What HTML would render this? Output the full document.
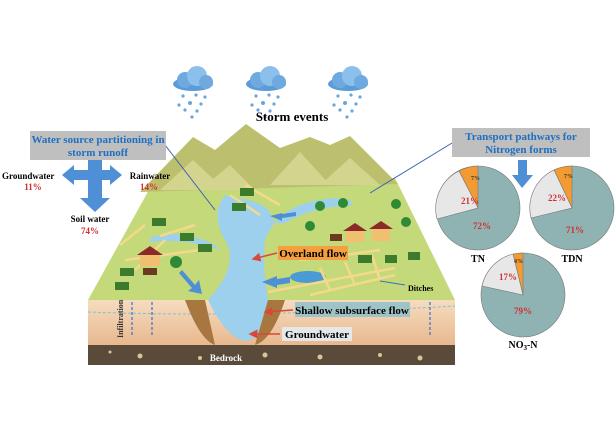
<!DOCTYPE html>
<html><head><meta charset="utf-8"><style>
html,body{margin:0;padding:0;background:#fff;}
svg{display:block;}
text{font-family:"Liberation Serif",serif;font-weight:bold;}
</style></head><body>
<svg width="616" height="428" viewBox="0 0 616 428" xmlns="http://www.w3.org/2000/svg">
<defs>
<marker id="ar" markerWidth="6" markerHeight="6" refX="5" refY="3" orient="auto"><path d="M0,0 L6,3 L0,6z" fill="#d8483a"/></marker>
<linearGradient id="soil" x1="0" y1="0" x2="0" y2="1"><stop offset="0" stop-color="#f6dcc0"/><stop offset="1" stop-color="#e8b88e"/></linearGradient>
<g id="cloud"><ellipse cx="0" cy="4" rx="20" ry="7" fill="#5b9bd8"/><circle cx="-8" cy="0" r="8" fill="#6eaae0"/><circle cx="4" cy="-4" r="10" fill="#8cc0ec"/><circle cx="13" cy="2" r="7" fill="#6eaae0"/></g>
<g id="drops" fill="#6aa5dc"><circle cx="-10" cy="16" r="1.6"/><circle cx="3" cy="15" r="1.6"/><circle cx="12" cy="17" r="1.6"/><circle cx="-14" cy="25" r="1.6"/><circle cx="-3" cy="23" r="2"/><circle cx="8" cy="24" r="1.6"/><circle cx="-8" cy="30" r="1.6"/><circle cx="4" cy="31" r="1.6"/><circle cx="-1" cy="37" r="1.6"/></g>
</defs>
<use href="#cloud" x="193" y="80"/><use href="#drops" x="193" y="80"/>
<use href="#cloud" x="266" y="80"/><use href="#drops" x="266" y="80"/>
<use href="#cloud" x="348" y="80"/><use href="#drops" x="348" y="80"/>
<text x="292" y="121" font-size="13" text-anchor="middle">Storm events</text>
<rect x="88" y="300" width="367" height="45" fill="url(#soil)"/>
<rect x="88" y="345" width="367" height="20" fill="#5a4a3a"/>
<g fill="#d9c59a"><circle cx="140" cy="356" r="2.5"/><circle cx="200" cy="358" r="2"/><circle cx="265" cy="355" r="2.5"/><circle cx="320" cy="357" r="2.5"/><circle cx="380" cy="355" r="2"/><circle cx="420" cy="358" r="2.5"/><circle cx="110" cy="352" r="1.5"/></g>
<text x="226" y="361" font-size="9" fill="#fff" text-anchor="middle">Bedrock</text>
<path d="M88,312 Q250,318 455,306" stroke="#7fc0d8" stroke-width="1" stroke-dasharray="3,2" fill="none"/>
<path d="M88,300 L150,188 L395,178 L455,300 Z" fill="#c4d97a"/>
<path d="M140,192 L193,137 L215,150 L246,124 L280,148 L310,137 L330,145 L350,136 L398,184 Z" fill="#bcc06e"/>
<path d="M160,190 L193,160 L225,190 Z M270,185 L300,152 L330,185 Z M320,185 L350,158 L380,185 Z M200,190 L230,165 L255,190Z" fill="#d3d58e"/>
<path d="M225,195 Q210,215 225,240 Q240,265 208,300 Q230,345 250,340 Q275,330 268,300 Q262,265 265,240 Q275,215 300,205 Q330,195 350,200 L352,206 Q320,205 290,220 Q275,230 270,212 Q260,200 235,198Z" fill="#9dd0ec"/>
<path d="M150,238 Q180,228 215,245 L220,250 Q185,238 150,242Z" fill="#9dd0ec"/>
<path d="M205,300 L185,300 Q200,340 215,345 Z M268,300 L285,300 Q272,340 255,345Z" fill="#a7773f"/>
<ellipse cx="308" cy="277" rx="18" ry="6" fill="#4a9ad6"/>
<g stroke="#f5d98a" stroke-width="2.5" fill="none">
<path d="M125,260 L200,250 M120,245 L145,225 M135,270 L165,240 M160,236 L195,225 M230,195 L260,215 M245,185 L280,205 M300,260 L345,255 L380,250 M310,295 L395,275 M320,268 L330,290 M345,262 L355,285 M372,255 L380,280 M268,292 L395,268"/>
</g>
<g fill="#3c7a2c"><rect x="152" y="218" width="14" height="8"/><rect x="180" y="233" width="14" height="8"/><rect x="198" y="244" width="14" height="8"/><rect x="120" y="268" width="14" height="8"/><rect x="115" y="282" width="14" height="8"/><rect x="240" y="188" width="14" height="8"/><rect x="232" y="203" width="14" height="8"/><rect x="358" y="255" width="14" height="8"/><rect x="385" y="255" width="12" height="8"/><rect x="408" y="252" width="12" height="8"/></g>
<g fill="#2e8a35"><circle cx="176" cy="262" r="6"/><circle cx="320" cy="206" r="5"/><circle cx="343" cy="203" r="5"/><circle cx="396" cy="204" r="5"/><circle cx="310" cy="226" r="5"/><circle cx="406" cy="222" r="5"/></g>
<g><rect x="140" y="254" width="20" height="12" fill="#f0c070"/><path d="M137,255 L150,246 L163,255Z" fill="#8c2a2a"/>
<rect x="346" y="230" width="18" height="12" fill="#f0c070"/><path d="M343,231 L355,223 L367,231Z" fill="#8c2a2a"/>
<rect x="372" y="228" width="18" height="13" fill="#f0c070"/><path d="M369,229 L381,221 L393,229Z" fill="#8c2a2a"/></g>
<rect x="143" y="268" width="14" height="7" fill="#6b3a1f"/><rect x="330" y="234" width="12" height="7" fill="#6b3a1f"/>
<g fill="#4e8fd6"><path d="M182,270 L195,285 L199,280 L202,294 L188,291 L192,288 L179,273Z"/>
<path d="M282,213 L270,216 L282,221 L282,218 L296,216 L296,212 L282,214Z"/>
<path d="M262,282 L277,276 L277,279 L290,277 L290,283 L277,285 L277,288Z"/></g>
<g stroke="#d8483a" stroke-width="1.5" marker-end="url(#ar)"><line x1="277" y1="253" x2="253" y2="259"/><line x1="293" y1="310" x2="265" y2="312"/><line x1="280" y1="334" x2="250" y2="334"/></g>
<line x1="405" y1="285" x2="380" y2="281" stroke="#3b6fc9" stroke-width="1"/>
<g stroke="#3b6fc9" stroke-width="1.2" stroke-dasharray="3,2"><line x1="132" y1="302" x2="132" y2="335"/><line x1="152" y1="302" x2="152" y2="335"/><line x1="430" y1="302" x2="430" y2="335"/></g>
<text transform="translate(123,338) rotate(-90)" font-size="8" font-weight="normal" fill="#333">Infiltration</text>
<rect x="278" y="246" width="70" height="14" fill="#f4a040"/><text x="313" y="257" font-size="11" text-anchor="middle">Overland flow</text>
<rect x="295" y="302" width="115" height="15" fill="#9fc4c8"/><text x="352" y="314" font-size="11" text-anchor="middle">Shallow subsurface flow</text>
<rect x="282" y="327" width="70" height="14" fill="#e4e8ea"/><text x="317" y="338" font-size="11" text-anchor="middle">Groundwater</text>
<text x="408" y="291" font-size="8">Ditches</text>
<line x1="165" y1="145" x2="215" y2="210" stroke="#3b5fb0" stroke-width="1"/>
<rect x="30" y="131" width="136" height="29" fill="#bfbfbf"/>
<text x="98" y="143" font-size="11" fill="#1f6fc0" text-anchor="middle">Water source partitioning in</text>
<text x="98" y="156" font-size="11" fill="#1f6fc0" text-anchor="middle">storm runoff</text>
<g fill="#4e8fd6"><rect x="88" y="160" width="14" height="40"/><path d="M80,198 L110,198 L95,212Z"/><rect x="72" y="170" width="40" height="10"/><path d="M74,165 L62,175 L74,185Z M110,165 L122,175 L110,185Z"/></g>
<text x="2" y="179" font-size="9">Groundwater</text><text x="33" y="190" font-size="9" fill="#d03030" text-anchor="middle">11%</text>
<text x="150" y="179" font-size="9" text-anchor="middle">Rainwater</text><text x="149" y="190" font-size="9" fill="#d03030" text-anchor="middle">14%</text>
<text x="90" y="222" font-size="9" text-anchor="middle">Soil water</text><text x="90" y="234" font-size="9" fill="#d03030" text-anchor="middle">74%</text>
<line x1="452" y1="143" x2="370" y2="193" stroke="#3b5fb0" stroke-width="1"/>
<rect x="452" y="128" width="138" height="29" fill="#bfbfbf"/>
<text x="521" y="140" font-size="11" fill="#1f6fc0" text-anchor="middle">Transport pathways for</text>
<text x="521" y="153" font-size="11" fill="#1f6fc0" text-anchor="middle">Nitrogen forms</text>
<g fill="#4e8fd6"><rect x="518" y="160" width="9" height="17"/><path d="M512,175 L533,175 L522,188Z"/></g>
<g stroke="#777" stroke-width="0.6">
<circle cx="478" cy="208" r="42" fill="#8fb3b3"/>
<path d="M478,208 L478,166 A42,42 0 0,0 459,171Z" fill="#f39a33"/>
<path d="M478,208 L459,171 A42,42 0 0,0 437,219Z" fill="#e7e7e7"/>
<circle cx="572" cy="208" r="42" fill="#8fb3b3"/>
<path d="M572,208 L572,166 A42,42 0 0,0 554,170Z" fill="#f39a33"/>
<path d="M572,208 L554,170 A42,42 0 0,0 531,218Z" fill="#e7e7e7"/>
<circle cx="523" cy="295" r="42" fill="#8fb3b3"/>
<path d="M523,295 L523,253 A42,42 0 0,0 513,254Z" fill="#f39a33"/>
<path d="M523,295 L513,254 A42,42 0 0,0 482,286Z" fill="#e7e7e7"/>
</g>
<g font-size="9" fill="#d03030"><text x="470" y="204" text-anchor="middle">21%</text><text x="482" y="229" text-anchor="middle">72%</text><text x="471" y="180" font-size="6" fill="#333">7%</text>
<text x="557" y="201" text-anchor="middle">22%</text><text x="575" y="233" text-anchor="middle">71%</text><text x="564" y="178" font-size="6" fill="#333">7%</text>
<text x="508" y="280" text-anchor="middle">17%</text><text x="523" y="314" text-anchor="middle">79%</text><text x="514" y="263" font-size="6" fill="#333">4%</text></g>
<text x="478" y="262" font-size="10" text-anchor="middle">TN</text>
<text x="572" y="262" font-size="10" text-anchor="middle">TDN</text>
<text x="523" y="348" font-size="10" text-anchor="middle">NO<tspan font-size="7" dy="2">3</tspan><tspan dy="-2">-N</tspan></text>
</svg>
</body></html>
